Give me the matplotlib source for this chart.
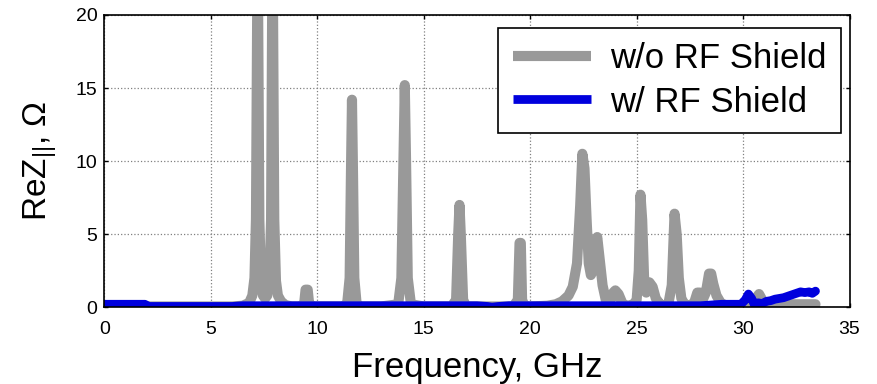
import matplotlib
matplotlib.use('Agg')
import matplotlib.pyplot as plt

# w/o RF shield: resonance spectrum (GHz, Ohm)
freq_noshield = [0.0, 2.0, 4.0, 6.0, 6.5, 6.8, 6.95, 7.05, 7.12, 7.2, 7.28, 7.36, 7.45, 7.55,
                 7.65, 7.75, 7.83, 7.9, 7.98, 8.06, 8.15, 8.3, 8.5, 8.8, 9.2, 9.38, 9.45, 9.55,
                 9.62, 9.8, 10.5, 11.2, 11.4, 11.52, 11.58, 11.63, 11.68, 11.74, 11.85, 12.0,
                 13.0, 13.8, 13.95, 14.05, 14.11, 14.17, 14.25, 14.4, 15.0, 16.3, 16.52, 16.62,
                 16.68, 16.74, 16.85, 17.0, 18.0, 19.2, 19.42, 19.5, 19.56, 19.62, 19.75, 20.0,
                 20.8, 21.2, 21.5, 21.8, 22.0, 22.2, 22.35, 22.45, 22.55, 22.65, 22.75, 22.85,
                 22.95, 23.05, 23.15, 23.25, 23.4, 23.55, 23.75, 23.9, 24.0, 24.15, 24.35, 24.6,
                 24.85, 25.0, 25.1, 25.18, 25.26, 25.35, 25.45, 25.6, 25.75, 25.9, 26.1, 26.3,
                 26.5, 26.65, 26.78, 26.88, 26.98, 27.1, 27.25, 27.45, 27.7, 27.85, 27.98, 28.1,
                 28.25, 28.4, 28.5, 28.6, 28.75, 28.95, 29.2, 29.6, 30.0, 30.4, 30.6, 30.75,
                 30.9, 31.1, 31.5, 32.0, 32.5, 33.0, 33.4]
rez_noshield = [0.05, 0.05, 0.05, 0.05, 0.1, 0.3, 0.8, 2.0, 6.0, 26.0, 6.0, 1.5, 0.8, 0.6,
                0.8, 1.8, 6.0, 26.0, 6.0, 1.8, 0.8, 0.4, 0.15, 0.05, 0.05, 0.2, 1.2, 1.2,
                0.2, 0.05, 0.05, 0.05, 0.2, 2.0, 9.0, 14.2, 9.0, 2.0, 0.2, 0.05,
                0.05, 0.2, 2.0, 10.0, 15.2, 10.0, 2.0, 0.2, 0.05, 0.05, 0.5, 5.0,
                7.0, 5.0, 0.5, 0.05, 0.05, 0.05, 0.5, 4.4, 4.4, 0.5, 0.05, 0.05,
                0.1, 0.2, 0.4, 0.8, 1.4, 3.0, 7.0, 10.5, 9.5, 6.0, 3.0, 2.2,
                2.5, 4.2, 4.8, 3.5, 1.5, 0.5, 0.4, 1.0, 1.15, 0.9, 0.2, 0.1,
                0.2, 0.5, 2.5, 7.7, 6.0, 2.0, 1.0, 1.7, 1.4, 0.6, 0.2, 0.1,
                0.3, 1.5, 6.4, 5.0, 2.0, 0.6, 0.2, 0.1, 0.3, 1.0, 1.0, 0.5,
                1.0, 2.3, 2.3, 1.6, 0.8, 0.3, 0.1, 0.05, 0.05, 0.1, 0.6, 0.9,
                0.5, 0.2, 0.2, 0.2, 0.2, 0.2, 0.2]

# w/ RF shield
freq_shield = [0.0, 1.0, 1.9, 2.1, 4.0, 6.0, 6.5, 8.0, 10.0, 12.0, 14.0, 16.0, 17.5,
               18.0, 18.2, 18.5, 19.0, 20.0, 22.0, 24.0, 26.0, 28.0, 28.5, 29.0, 29.5,
               29.9, 30.1, 30.25, 30.4, 30.55, 30.7, 30.9, 31.1, 31.3, 31.5, 31.7,
               31.9, 32.1, 32.3, 32.5, 32.7, 32.9, 33.1, 33.25, 33.4]
rez_shield = [0.2, 0.2, 0.2, 0.05, 0.05, 0.05, 0.1, 0.1, 0.1, 0.1, 0.1, 0.1, 0.1,
              0.05, 0.0, 0.05, 0.1, 0.1, 0.1, 0.1, 0.1, 0.1, 0.15, 0.2, 0.2,
              0.2, 0.5, 0.9, 0.6, 0.1, 0.3, 0.25, 0.4, 0.45, 0.55, 0.6,
              0.65, 0.75, 0.85, 0.95, 1.05, 1.0, 1.05, 0.95, 1.1]

xticks = [0, 5, 10, 15, 20, 25, 30, 35]
yticks = [0, 5, 10, 15, 20]

plt.rcParams['font.family'] = ['Liberation Sans', 'DejaVu Sans']
plt.rcParams['mathtext.fontset'] = 'custom'
plt.rcParams['mathtext.rm'] = 'Liberation Sans'
plt.rcParams['mathtext.it'] = 'Liberation Sans'

fig = plt.figure(figsize=(8.77, 3.84), dpi=100)
ax = fig.add_axes([0.119, 0.2, 0.8497, 0.761])

ax.plot(freq_noshield, rez_noshield, color='#999999', lw=7.3,
        solid_joinstyle='round', solid_capstyle='round', label='w/o RF Shield')
ax.plot(freq_shield, rez_shield, color='#0000dd', lw=6.3,
        solid_joinstyle='round', solid_capstyle='round', label='w/ RF Shield')

ax.set_xlim(0, 35)
ax.set_ylim(0, 20)
ax.set_xticks(xticks)
ax.set_yticks(yticks)
ax.tick_params(direction='in', length=3, width=1, top=True, right=True, labelsize=14)
ax.tick_params(axis='x', pad=10)
ax.tick_params(axis='y', pad=5)
ax.grid(True, linestyle=':', color='0.5', linewidth=0.9)
for s in ax.spines.values():
    s.set_linewidth(1.2)

ax.set_xlabel('Frequency, GHz', fontsize=25, labelpad=9)
ax.set_ylabel(r'ReZ$_{||}$, Ω', fontsize=24, labelpad=12)

leg = ax.legend(loc='upper right', bbox_to_anchor=(0.989, 0.957), fontsize=25,
                frameon=True, fancybox=False, framealpha=1, edgecolor='black',
                handlelength=2.25, handletextpad=0.55, borderpad=0.42, labelspacing=0.3,
                borderaxespad=0)
leg.get_frame().set_linewidth(1.2)
for ln in leg.get_lines():
    ln.set_solid_capstyle('butt')

fig.savefig('out.png', dpi=100)
